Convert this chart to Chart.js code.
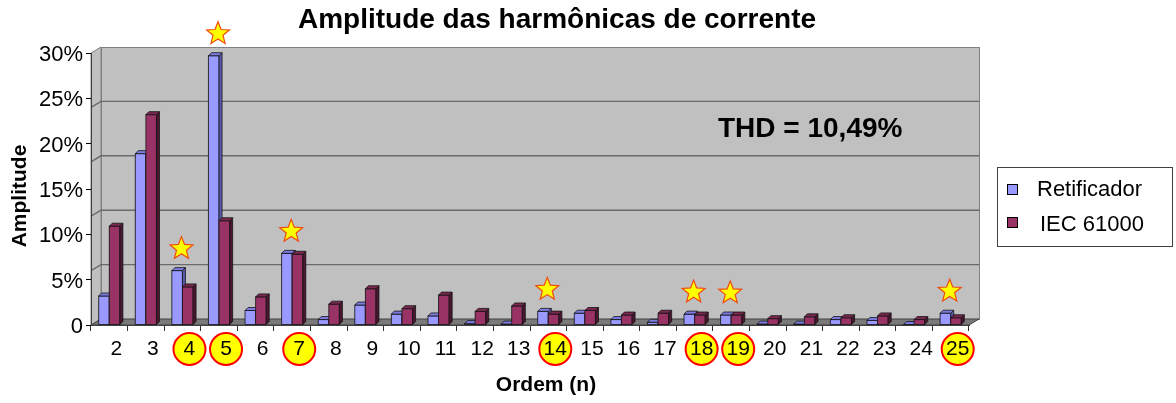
<!DOCTYPE html>
<html>
<head>
<meta charset="utf-8">
<style>
html,body{margin:0;padding:0;background:#fff;overflow:hidden}
#wrap{width:1176px;height:403px;position:relative}
</style>
<script src="https://cdn.jsdelivr.net/npm/chart.js@4.4.1/dist/chart.umd.min.js"></script>
</head>
<body>
<div id="wrap"><canvas id="c" width="1176" height="403"></canvas></div>
<script>
// ---- data ----
const categories = ['2','3','4','5','6','7','8','9','10','11','12','13','14','15','16','17','18','19','20','21','22','23','24','25'];
const retificador = [3.2, 18.9, 6.0, 29.7, 1.6, 7.9, 0.6, 2.2, 1.2, 1.0, 0.15, 0.1, 1.5, 1.3, 0.6, 0.3, 1.2, 1.1, 0.1, 0.1, 0.6, 0.5, 0.05, 1.3];
const iec61000    = [10.9, 23.2, 4.2, 11.5, 3.1, 7.8, 2.3, 4.0, 1.8, 3.3, 1.5, 2.1, 1.2, 1.6, 1.1, 1.3, 1.1, 1.1, 0.7, 0.9, 0.8, 1.0, 0.6, 0.8];
const seriesNames = ['Retificador', 'IEC 61000'];
const yTicks = [0, 5, 10, 15, 20, 25, 30];
const wallGrid = [6, 12, 18, 24];
const highlighted = ['4','5','7','14','18','19','25'];
const chartTitle = 'Amplitude das harmônicas de corrente';
const thdText = 'THD = 10,49%';
const xTitle = 'Ordem (n)';
const yTitle = 'Amplitude';

// ---- styles ----
const FONT = '"Liberation Sans", Arial, sans-serif';
const faces = [
  {front:'#9999ff', top:'#7c7ce0', side:'#5a5ab0'},
  {front:'#993366', top:'#7a2850', side:'#4a1630'}
];
const WX = 10, WY = 6, D = 3;

function poly(ctx, pts, fill) {
  ctx.beginPath();
  ctx.moveTo(pts[0][0], pts[0][1]);
  for (let i = 1; i < pts.length; i++) ctx.lineTo(pts[i][0], pts[i][1]);
  ctx.closePath();
  ctx.fillStyle = fill; ctx.fill(); ctx.stroke();
}

function star(ctx, cx, cy, R, r) {
  ctx.beginPath();
  for (let i = 0; i < 10; i++) {
    const ang = -Math.PI / 2 + i * Math.PI / 5;
    const rad = i % 2 === 0 ? R : r;
    const px = cx + rad * Math.cos(ang), py = cy + rad * Math.sin(ang);
    if (i === 0) ctx.moveTo(px, py); else ctx.lineTo(px, py);
  }
  ctx.closePath();
  ctx.fillStyle = '#ffff00'; ctx.fill();
  ctx.strokeStyle = '#f04a10'; ctx.lineWidth = 1.2; ctx.stroke();
}

const excel3d = {
  id: 'excel3d',
  beforeDraw(chart) {
    const {ctx, chartArea: a, scales} = chart;
    ctx.save();
    ctx.fillStyle = '#fff'; ctx.fillRect(0, 0, chart.width, chart.height);
    const w = a.right - a.left, h = a.bottom - a.top;
    ctx.lineWidth = 1; ctx.strokeStyle = '#808080';
    // back wall
    ctx.fillStyle = '#c0c0c0';
    ctx.fillRect(a.left + WX, a.top - WY, w, h);
    ctx.strokeRect(a.left + WX + 0.5, a.top - WY + 0.5, w, h);
    // side wall
    poly(ctx, [[a.left, a.top], [a.left + WX, a.top - WY], [a.left + WX, a.bottom - WY], [a.left, a.bottom]], '#c0c0c0');
    // wall gridlines
    ctx.strokeStyle = '#6a6a6a'; ctx.lineWidth = 1.4;
    wallGrid.forEach(v => {
      const yy = scales.y.getPixelForValue(v) - WY;
      ctx.beginPath();
      ctx.moveTo(a.left, yy + WY); ctx.lineTo(a.left + WX, yy); ctx.lineTo(a.right + WX, yy);
      ctx.stroke();
    });
    // floor
    ctx.strokeStyle = '#404040'; ctx.lineWidth = 1;
    poly(ctx, [[a.left, a.bottom], [a.left + WX, a.bottom - WY], [a.right + WX, a.bottom - WY], [a.right, a.bottom]], '#7a7a7a');
    // highlighted label circles
    highlighted.forEach(lab => {
      const i = categories.indexOf(lab);
      const cx = scales.x.getPixelForValue(i) + 7;
      ctx.beginPath(); ctx.arc(cx, 349, 16, 0, Math.PI * 2);
      ctx.fillStyle = '#ffff00'; ctx.fill();
      ctx.strokeStyle = '#ff0000'; ctx.lineWidth = 2; ctx.stroke();
    });
    ctx.restore();
  },
  afterDatasetsDraw(chart) {
    const {ctx} = chart;
    const metas = [chart.getDatasetMeta(0), chart.getDatasetMeta(1)];
    ctx.save();
    ctx.lineWidth = 0.8; ctx.strokeStyle = '#141414'; ctx.lineJoin = 'round';
    for (let i = 0; i < metas[0].data.length; i++) {
      metas.forEach((m, di) => {
        const el = m.data[i];
        const {x, y, base, width} = el.getProps(['x', 'y', 'base', 'width'], true);
        const l = x - width / 2, r = x + width / 2;
        const c = faces[di];
        ctx.fillStyle = c.front;
        ctx.fillRect(l, y, width, base - y);
        ctx.strokeRect(l, y, width, base - y);
        poly(ctx, [[r, y], [r + D, y - D], [r + D, base - D], [r, base]], c.side);
        poly(ctx, [[l, y], [l + D, y - D], [r + D, y - D], [r, y]], c.top);
      });
    }
    ctx.restore();
  },
  afterDraw(chart) {
    const {ctx, scales} = chart;
    ctx.save();
    // stars
    highlighted.forEach(lab => {
      const i = categories.indexOf(lab);
      const vmax = Math.max(retificador[i], iec61000[i]);
      const cx = scales.x.getPixelForValue(i) - 1;
      const cy = scales.y.getPixelForValue(vmax) - 22;
      star(ctx, cx, cy, 12, 5.2);
    });
    ctx.fillStyle = '#000';
    // title
    ctx.font = 'bold 28px ' + FONT; ctx.textAlign = 'center'; ctx.textBaseline = 'alphabetic';
    ctx.fillText(chartTitle, 557, 28);
    // THD
    ctx.font = 'bold 28px ' + FONT; ctx.textAlign = 'left';
    ctx.fillText(thdText, 718, 137);
    // axis titles
    ctx.font = 'bold 21px ' + FONT; ctx.textAlign = 'center'; ctx.textBaseline = 'middle';
    ctx.fillText(xTitle, 546, 385);
    ctx.save(); ctx.translate(20, 196); ctx.rotate(-Math.PI / 2); ctx.fillText(yTitle, 0, 0); ctx.restore();
    // legend
    ctx.fillStyle = '#fff'; ctx.fillRect(997, 167, 175, 79);
    ctx.strokeStyle = '#404040'; ctx.lineWidth = 1; ctx.strokeRect(997.5, 167.5, 175, 79);
    const ly = [184, 217], tx = [1037, 1040], ty = [196, 231];
    seriesNames.forEach((nm, k) => {
      ctx.fillStyle = faces[k].front; ctx.fillRect(1007, ly[k], 10, 10);
      ctx.strokeStyle = '#000'; ctx.strokeRect(1007.5, ly[k] + 0.5, 10, 10);
      ctx.fillStyle = '#000'; ctx.font = '22px ' + FONT; ctx.textAlign = 'left'; ctx.textBaseline = 'alphabetic';
      ctx.fillText(nm, tx[k], ty[k]);
    });
    ctx.restore();
  }
};

new Chart(document.getElementById('c'), {
  type: 'bar',
  data: {
    labels: categories,
    datasets: [
      {label: seriesNames[0], data: retificador, backgroundColor: faces[0].front, borderColor: '#141414', borderWidth: 0.8},
      {label: seriesNames[1], data: iec61000, backgroundColor: faces[1].front, borderColor: '#141414', borderWidth: 0.8}
    ]
  },
  options: {
    responsive: false, animation: false, devicePixelRatio: 1,
    layout: {padding: {top: 53, right: 207, left: 0, bottom: 0}},
    datasets: {bar: {categoryPercentage: 0.58, barPercentage: 1.0}},
    plugins: {legend: {display: false}, title: {display: false}, tooltip: {enabled: false}},
    scales: {
      x: {
        grid: {display: true, drawOnChartArea: false, drawTicks: true, tickLength: 6, color: '#303030', offset: true},
        border: {display: true, color: '#404040'},
        ticks: {font: {family: FONT, size: 21}, color: '#000', padding: 6, labelOffset: 7, maxRotation: 0, autoSkip: false},
        afterFit(s) { s.height = 78; }
      },
      y: {
        min: 0, max: 30,
        afterBuildTicks(s) { s.ticks = yTicks.map(v => ({value: v})); },
        ticks: {callback: v => v === 0 ? '0' : v + '%', font: {family: FONT, size: 22}, color: '#000', padding: 3, labelOffset: 2},
        grid: {display: true, drawOnChartArea: false, tickLength: 5, color: '#000'},
        border: {display: true, color: '#404040'},
        afterFit(s) { s.width = 91; }
      }
    }
  },
  plugins: [excel3d]
});
</script>
</body>
</html>
